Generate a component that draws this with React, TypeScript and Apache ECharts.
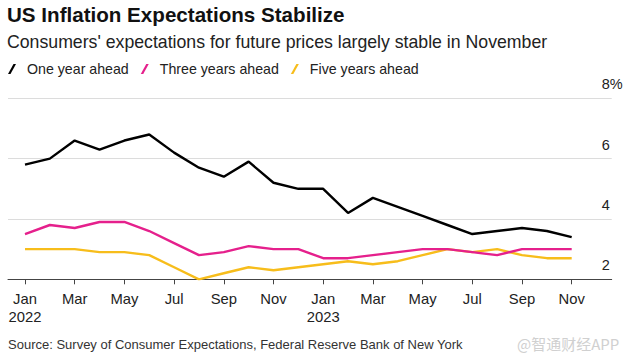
import React, { useEffect, useRef } from "react";
import * as echarts from "echarts";

const monthNames = ["Jan", "Feb", "Mar", "Apr", "May", "Jun", "Jul", "Aug", "Sep", "Oct", "Nov", "Dec"];
const months = [
  "2022-01", "2022-02", "2022-03", "2022-04", "2022-05", "2022-06", "2022-07", "2022-08", "2022-09", "2022-10", "2022-11", "2022-12",
  "2023-01", "2023-02", "2023-03", "2023-04", "2023-05", "2023-06", "2023-07", "2023-08", "2023-09", "2023-10", "2023-11",
];
const oneYear = [5.8, 6.0, 6.6, 6.3, 6.6, 6.8, 6.2, 5.7, 5.4, 5.9, 5.2, 5.0, 5.0, 4.2, 4.7, 4.4, 4.1, 3.8, 3.5, 3.6, 3.7, 3.6, 3.4];
const threeYear = [3.5, 3.8, 3.7, 3.9, 3.9, 3.6, 3.2, 2.8, 2.9, 3.1, 3.0, 3.0, 2.7, 2.7, 2.8, 2.9, 3.0, 3.0, 2.9, 2.8, 3.0, 3.0, 3.0];
const fiveYear = [3.0, 3.0, 3.0, 2.9, 2.9, 2.8, 2.4, 2.0, 2.2, 2.4, 2.3, 2.4, 2.5, 2.6, 2.5, 2.6, 2.8, 3.0, 2.9, 3.0, 2.8, 2.7, 2.7];
const xTickIndexes = [0, 2, 4, 6, 8, 10, 12, 14, 16, 18, 20, 22];
const yTicks = [2, 4, 6, 8];

const seriesNames = ["One year ahead", "Three years ahead", "Five years ahead"];
const seriesColors = ["#000000", "#e5208c", "#f7bd1b"];

const FONT = "'Liberation Sans', Arial, Helvetica, sans-serif";

export default function App() {
  const ref = useRef<HTMLDivElement>(null);
  useEffect(() => {
    if (!ref.current) return;
    const chart = echarts.init(ref.current, undefined, { renderer: "svg" });
    const toPairs = (arr: number[]) => arr.map((v, i) => [i, v]);
    const icon = "path://M0,11 L2.8,11 L9,0 L6.2,0 Z";
    const option: any = {
      animation: false,
      backgroundColor: "#ffffff",
      textStyle: { fontFamily: FONT },
      grid: { left: 8, right: 21.3, top: 98.3, bottom: 79.7, containLabel: false },
      legend: {
        left: 8,
        top: 62,
        padding: 0,
        itemGap: 12,
        itemWidth: 8,
        itemHeight: 11,
        selectedMode: false,
        textStyle: { fontFamily: FONT, fontSize: 14.2, color: "#222", padding: [0, 0, 0, 6] },
        data: seriesNames.map((n, i) => ({ name: n, icon, itemStyle: { color: seriesColors[i] } })),
      },
      xAxis: {
        type: "value",
        min: -0.684,
        max: 23.61,
        splitLine: { show: false },
        axisLine: { show: true, lineStyle: { color: "#444", width: 1 } },
        axisTick: { show: true, customValues: xTickIndexes, length: 5, lineStyle: { color: "#444" } },
        axisLabel: {
          customValues: xTickIndexes,
          margin: 11,
          fontFamily: FONT,
          fontSize: 14.8,
          lineHeight: 18,
          color: "#222",
          formatter: (v: number) => {
            const m = months[Math.round(v)];
            if (!m) return "";
            const [y, mo] = m.split("-");
            const name = monthNames[parseInt(mo, 10) - 1];
            return mo === "01" ? name + "\n" + y : name;
          },
        },
      },
      yAxis: {
        type: "value",
        position: "right",
        min: 2,
        max: 8,
        interval: 2,
        axisLine: { show: false },
        axisTick: { show: false },
        splitLine: { show: true, lineStyle: { color: "#dcdcdc", width: 1.2 } },
        axisLabel: {
          inside: true,
          margin: 10,
          align: "left",
          verticalAlign: "bottom",
          lineHeight: 14,
          padding: [0, 0, 7, 0],
          fontFamily: FONT,
          fontSize: 14.5,
          color: "#222",
          formatter: (v: number) => (yTicks.indexOf(v) >= 0 ? (v === 8 ? v + "%" : String(v)) : ""),
        },
      },
      series: [oneYear, threeYear, fiveYear].map((arr, i) => ({
        name: seriesNames[i],
        type: "line",
        data: toPairs(arr),
        showSymbol: false,
        symbol: "none",
        lineStyle: { color: seriesColors[i], width: 2.4 },
        itemStyle: { color: seriesColors[i] },
        z: 10 - i,
      })),
      graphic: [
        {
          type: "text",
          left: 7,
          top: 4,
          style: { text: "US Inflation Expectations Stabilize", font: "bold 20.6px " + FONT, fill: "#111" },
        },
        {
          type: "text",
          left: 7,
          top: 33,
          style: { text: "Consumers' expectations for future prices largely stable in November", font: "17.7px " + FONT, fill: "#222" },
        },
        {
          type: "text",
          left: 8,
          top: 338,
          style: { text: "Source: Survey of Consumer Expectations, Federal Reserve Bank of New York", font: "13px " + FONT, fill: "#333" },
        },
        {
          type: "text",
          left: 517,
          top: 336,
          style: { text: "@智通财经APP", font: "15px 'Noto Sans CJK SC', sans-serif", fill: "#d0d0d0" },
        },
      ],
    };
    chart.setOption(option);
    return () => chart.dispose();
  }, []);
  return <div ref={ref} style={{ width: 633, height: 359, position: "absolute", left: 0, top: 0 }} />;
}
